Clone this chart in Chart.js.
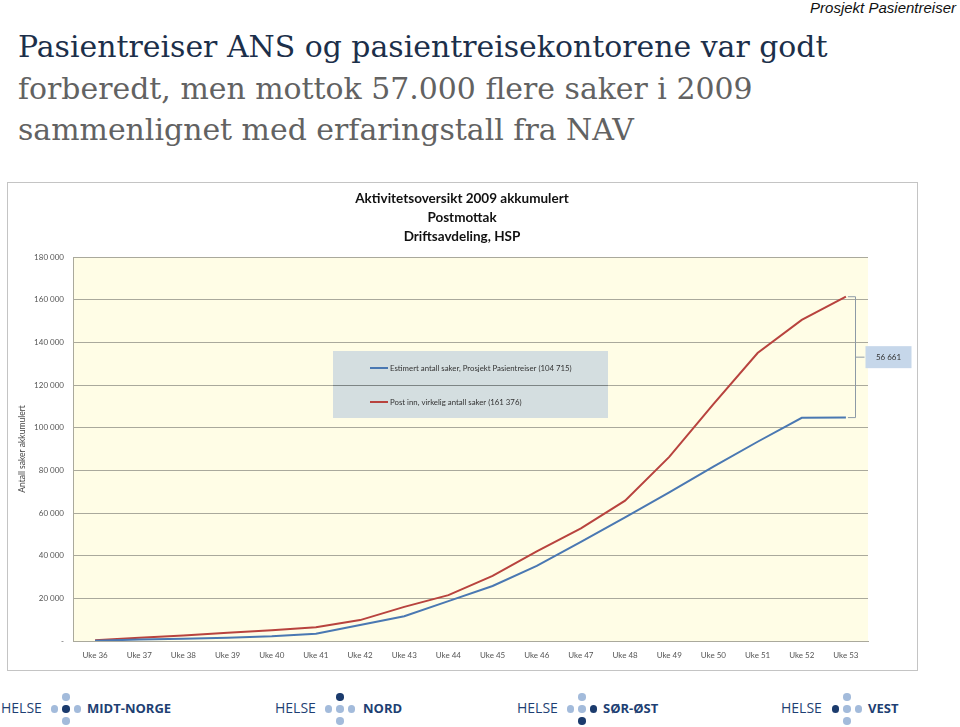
<!DOCTYPE html>
<html>
<head>
<meta charset="utf-8">
<script src="https://cdn.jsdelivr.net/npm/chart.js@4.4.1/dist/chart.umd.min.js"></script>
<style>
  html, body { margin:0; padding:0; background:#fff; }
  body { width:960px; height:727px; position:relative; overflow:hidden; }
  .hl { position:absolute; left:18px; font-family:"DejaVu Serif", serif; white-space:nowrap; line-height:1; }
  #tag { position:absolute; right:4px; top:-1px; font-family:"Liberation Sans", Arial, sans-serif; font-style:italic; font-size:15px; color:#111; }
  #wrap { position:absolute; left:7px; top:182px; width:911px; height:489px; }
  .logo-t { position:absolute; font-family:"Open Sans", sans-serif; color:#1e3f73; line-height:1; white-space:nowrap; }
  .helse { font-size:14px; font-weight:400; }
  .reg { font-size:13px; font-weight:700; }
  .dot { position:absolute; width:7.5px; height:7.5px; border-radius:50%; }
</style>
</head>
<body>
<div id="tag">Prosjekt Pasientreiser</div>
<div class="hl" id="h1" style="top:32px;color:#1c2f4a;">Pasientreiser ANS og pasientreisekontorene var godt</div>
<div class="hl" id="h2" style="top:74px;color:#626262;">forberedt, men mottok 57.000 flere saker i 2009</div>
<div class="hl" id="h3" style="top:115px;color:#626262;">sammenlignet med erfaringstall fra NAV</div>

<div id="wrap"><canvas id="c" width="911" height="489"></canvas></div>
<div id="logos"></div>

<script>
// ---- data ----
const categories = ['Uke 36','Uke 37','Uke 38','Uke 39','Uke 40','Uke 41','Uke 42','Uke 43','Uke 44',
                    'Uke 45','Uke 46','Uke 47','Uke 48','Uke 49','Uke 50','Uke 51','Uke 52','Uke 53'];
const estimert = [100, 700, 1000, 1500, 2200, 3400, 7500, 11600, 18700, 25800, 35200, 46500, 57900, 69700, 81700, 93400, 104600, 104715];
const postInn  = [300, 1500, 2600, 3900, 5000, 6400, 9800, 16000, 21500, 30500, 42000, 52800, 65800, 86300, 111000, 135000, 150500, 161376];
const seriesLabels = ['Estimert antall saker, Prosjekt Pasientreiser (104 715)', 'Post inn, virkelig antall saker (161 376)'];
const chartTitle = ['Aktivitetsoversikt 2009 akkumulert', 'Postmottak', 'Driftsavdeling, HSP'];
const yAxisTitle = 'Antall saker akkumulert';
const yMin = 0, yMax = 180000, yStep = 20000;

// fit headline width
(function(){
  const target = 810;
  const ctx = document.createElement('canvas').getContext('2d');
  ctx.font = '30px "DejaVu Serif"';
  const w = ctx.measureText(document.getElementById('h1').textContent).width;
  const fs = 30 * target / w;
  ['h1','h2','h3'].forEach(id => document.getElementById(id).style.fontSize = fs.toFixed(2) + 'px');
})();

function fmt(v){ return String(v).replace(/\B(?=(\d{3})+(?!\d))/g, ' '); }

const GRID = '#aaa99c';
const FONT = 'Lato, "Open Sans", sans-serif';

const framePlugin = {
  id:'frame',
  beforeDraw(chart){
    const {ctx, chartArea:a, width, height} = chart;
    ctx.save();
    ctx.fillStyle = '#fff';
    ctx.fillRect(0,0,width,height);
    ctx.fillStyle = '#fffde6';
    ctx.fillRect(a.left, a.top, a.right-a.left, a.bottom-a.top);
    ctx.strokeStyle = '#c4c4c4';
    ctx.lineWidth = 1;
    ctx.strokeRect(0.5,0.5,width-1,height-1);
    ctx.fillStyle = '#111';
    ctx.font = 'bold 13.5px ' + FONT;
    ctx.textAlign = 'center';
    ctx.textBaseline = 'middle';
    const cx = 455;
    [17, 36, 55].forEach((yy,i) => ctx.fillText(chartTitle[i], cx, yy));
    ctx.restore();
  }
};

const legendBoxPlugin = {
  id:'legendBox',
  beforeDatasetsDraw(chart){
    const {ctx} = chart;
    const ys = chart.scales.y;
    const bx = 326, by = 169, bw = 275, bh = 67;
    ctx.save();
    ctx.fillStyle = 'rgb(212,222,224)';
    ctx.fillRect(bx, by, bw, bh);
    ctx.strokeStyle = '#7d8585';
    ctx.lineWidth = 1;
    ctx.beginPath();
    for (let v = yMin; v <= yMax; v += yStep) {
      const py = Math.round(ys.getPixelForValue(v)) + 0.5;
      if (py > by && py < by + bh) {
        ctx.moveTo(bx, py); ctx.lineTo(bx + bw, py);
      }
    }
    ctx.stroke();
    const items = [ {y: by + 17, ds: 0}, {y: by + 51, ds: 1} ];
    ctx.font = '7.8px ' + FONT;
    ctx.textBaseline = 'middle';
    ctx.textAlign = 'left';
    items.forEach(it => {
      const d = chart.data.datasets[it.ds];
      ctx.strokeStyle = d.borderColor;
      ctx.lineWidth = 2;
      ctx.beginPath(); ctx.moveTo(bx + 37, it.y); ctx.lineTo(bx + 55, it.y); ctx.stroke();
      ctx.fillStyle = '#333';
      ctx.fillText(d.label, bx + 57, it.y);
    });
    ctx.restore();
  }
};

const bracketPlugin = {
  id:'bracket',
  afterDatasetsDraw(chart){
    const {ctx} = chart;
    const xs = chart.scales.x, ys = chart.scales.y;
    const last = categories.length - 1;
    const xe = xs.getPixelForValue(last);
    const yTop = ys.getPixelForValue(postInn[last]);
    const yBot = ys.getPixelForValue(estimert[last]);
    const bx = Math.round(xe + 9) + 0.5;
    const yMid = (yTop + yBot) / 2;
    ctx.save();
    ctx.strokeStyle = '#8d9aa6';
    ctx.lineWidth = 1;
    ctx.beginPath();
    ctx.moveTo(xe + 2, yTop); ctx.lineTo(bx, yTop); ctx.lineTo(bx, yBot); ctx.lineTo(xe + 2, yBot);
    ctx.moveTo(bx, yMid); ctx.lineTo(bx + 9, yMid);
    ctx.stroke();
    const lx = bx + 10, lw = 46, lh = 22;
    ctx.fillStyle = '#c6d7ea';
    ctx.fillRect(lx, yMid - lh/2, lw, lh);
    ctx.fillStyle = '#333';
    ctx.font = '8px ' + FONT;
    ctx.textAlign = 'center';
    ctx.textBaseline = 'middle';
    ctx.fillText(fmt(postInn[last] - estimert[last]), lx + lw/2, yMid);
    ctx.restore();
  }
};

new Chart(document.getElementById('c'), {
  type:'line',
  data:{
    labels: categories,
    datasets:[
      { label: seriesLabels[0], data: estimert, borderColor:'#4a78b2', borderWidth:2, pointRadius:0, tension:0, fill:false },
      { label: seriesLabels[1], data: postInn, borderColor:'#b8433e', borderWidth:2, pointRadius:0, tension:0, fill:false }
    ]
  },
  options:{
    responsive:false,
    animation:false,
    devicePixelRatio:1,
    layout:{ padding:{ top:75, right:50, bottom:0, left:0 } },
    plugins:{ legend:{display:false}, title:{display:false}, tooltip:{enabled:false} },
    scales:{
      x:{
        type:'category',
        offset:true,
        grid:{ display:false, drawTicks:false },
        border:{ display:true, color:GRID },
        ticks:{ font:{family:FONT, size:8}, color:'#555', padding:10, maxRotation:0, autoSkip:false },
        afterFit(s){ s.height = 30; }
      },
      y:{
        min:yMin, max:yMax,
        grid:{ color:GRID, drawTicks:false, lineWidth:1 },
        border:{ display:true, color:GRID },
        ticks:{ stepSize:yStep, font:{family:FONT, size:8}, color:'#555', padding:9,
                callback:(v) => v === 0 ? '-' : fmt(v) },
        title:{ display:true, text:yAxisTitle, font:{family:FONT, size:8.5}, color:'#444', padding:{top:10, bottom:0} },
        afterFit(s){ s.width = 66; }
      }
    }
  },
  plugins:[framePlugin, legendBoxPlugin, bracketPlugin]
});

// ---- logos ----
const logos = [
  { name:'MIDT-NORGE', helseX:1,   dotX:66,  nameX:87,  dark:['c'] },
  { name:'NORD',       helseX:275, dotX:340, nameX:363, dark:['t'] },
  { name:'SØR-ØST',    helseX:517, dotX:582, nameX:603, dark:['r','b'] },
  { name:'VEST',       helseX:781, dotX:847, nameX:868, dark:['l'] }
];
const L = document.getElementById('logos');
const cy = 709;
logos.forEach(g => {
  const h = document.createElement('div');
  h.className = 'logo-t helse'; h.textContent = 'HELSE';
  h.style.left = g.helseX + 'px'; h.style.top = (cy - 8) + 'px';
  L.appendChild(h);
  const n = document.createElement('div');
  n.className = 'logo-t reg'; n.textContent = g.name;
  n.style.left = g.nameX + 'px'; n.style.top = (cy - 7.5) + 'px';
  L.appendChild(n);
  const pos = { t:[0,-12], l:[-11.5,0], c:[0,0], r:[11.5,0], b:[0,12] };
  Object.keys(pos).forEach(k => {
    const d = document.createElement('div');
    d.className = 'dot';
    d.style.background = g.dark.includes(k) ? '#1b3b6d' : '#a3bbdb';
    d.style.left = (g.dotX + pos[k][0] - 3.75) + 'px';
    d.style.top = (cy + pos[k][1] - 3.75) + 'px';
    L.appendChild(d);
  });
});
</script>
</body>
</html>
